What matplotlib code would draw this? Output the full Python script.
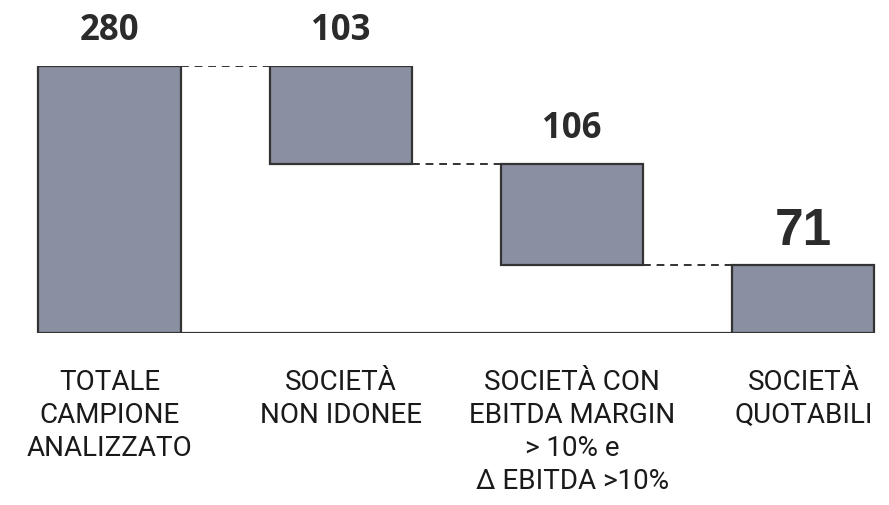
import matplotlib.pyplot as plt
import numpy as np

# dati del grafico a cascata
categorie = ["TOTALE\nCAMPIONE\nANALIZZATO",
             "SOCIETÀ\nNON IDONEE",
             "SOCIETÀ CON\nEBITDA MARGIN\n> 10% e\nΔ EBITDA >10%",
             "SOCIETÀ\nQUOTABILI"]
valori = [280, 103, 106, 71]
basi = [0, 177, 71, 0]

colore = "#8a90a2"
bordo = "#333333"

fig = plt.figure(figsize=(8.89, 5.05), dpi=100)
ax = fig.add_axes([0, 0.3406, 1, 0.5287])

x = np.arange(len(valori))
w = 0.614
ax.bar(x, valori, width=w, bottom=basi, color=colore, edgecolor=bordo, linewidth=1.6)

# linea di base
ax.plot([x[0] + w / 2, x[-1] - w / 2], [0, 0], color=bordo, linewidth=1.6, zorder=1)

# collegamenti tratteggiati
for i in range(len(valori) - 1):
    livello = valori[0] if i == 0 else basi[i]
    ax.plot([x[i] + w / 2, x[i + 1] - w / 2], [livello, livello],
            color=bordo, linewidth=1.4, linestyle=(0, (4, 3)), zorder=1)

# etichette dei valori
for i, v in enumerate(valori):
    top = basi[i] + v
    if i == len(valori) - 1:
        ax.annotate(str(v), (x[i], top), xytext=(0, 24), textcoords="offset points",
                    ha="center", va="center", fontsize=37, fontweight="bold",
                    family="Liberation Sans", color="#2b2b2b")
    else:
        ax.annotate(str(v), (x[i], top), xytext=(0, 25), textcoords="offset points",
                    ha="center", va="center", fontsize=25, fontweight="bold",
                    family="Open Sans", color="#2b2b2b")

# etichette delle categorie
for i, c in enumerate(categorie):
    ax.annotate(c, (x[i], 0), xytext=(0, -26), textcoords="offset points",
                ha="center", va="top", fontsize=20, linespacing=1.28,
                family="Roboto", color="#1a1a1a")

ax.set_xlim(-0.4734, 3.370)
ax.set_ylim(0, 280)
ax.axis("off")

fig.savefig("out.png", dpi=100)
